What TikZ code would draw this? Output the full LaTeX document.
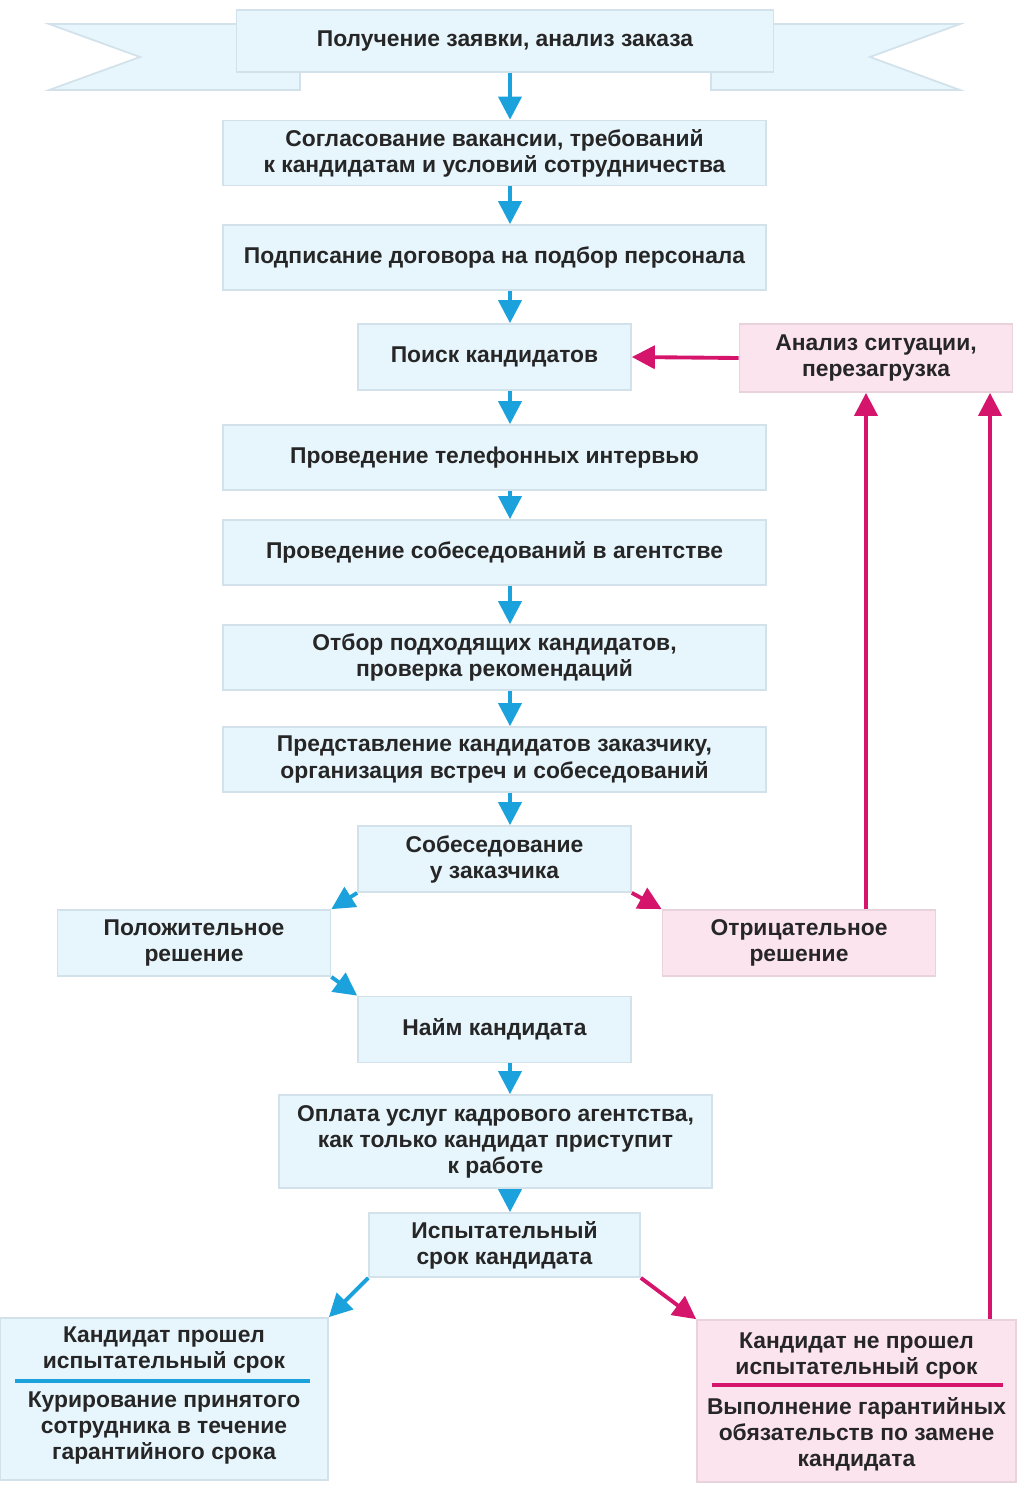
\documentclass[tikz,border=0pt]{standalone}
\usepackage{fontspec}
\setmainfont{Liberation Sans}
\usepackage{xcolor}
\usepackage{tikz}
\usetikzlibrary{
	positioning,						% Relative positioning
	arrows.meta,						% Triangle arrow tips
	calc								% Coordinate calculations
}
\definecolor{step-light}{HTML}{E7F5FC}
\definecolor{step-edge}{HTML}{D3E2EA}
\definecolor{fail-light}{HTML}{FCE4EF}
\definecolor{fail-edge}{HTML}{E8D2DC}
\definecolor{agency-blue}{HTML}{1BA1DB}
\definecolor{agency-pink}{HTML}{D5156B}
\definecolor{ink}{HTML}{262626}

\begin{document}
\begin{tikzpicture}[x=0.02cm, y=-0.02cm]
		\tikzstyle{stage} = [draw=step-edge, fill=step-light, line width=1pt, align=center, text=ink, inner sep=0pt, font=\bfseries\fontsize{13}{14.8}\selectfont]
		\tikzstyle{fail} = [stage, draw=fail-edge, fill=fail-light]
		\tikzstyle{caption} = [align=center, text=ink, inner sep=0pt, font=\bfseries\fontsize{13}{14.8}\selectfont]
		\tikzstyle{wide} = [minimum width=10.86cm, minimum height=1.3cm]
		\tikzstyle{narrow} = [minimum width=5.46cm, minimum height=1.32cm]
		\tikzstyle{flow} = [-{Triangle[length=0.46cm, width=0.46cm]}, line width=2.2pt, draw=agency-blue]
		\tikzstyle{back} = [flow, draw=agency-pink]
		\useasboundingbox (0,0) rectangle (1024,1485);
		
		% Ribbon wings behind the first step
		\filldraw[draw=step-edge, fill=step-light, line width=1pt] (49,24) -- (300,24) -- (300,90) -- (49,90) -- (140,57) -- cycle;
		\filldraw[draw=step-edge, fill=step-light, line width=1pt] (960,24) -- (711,24) -- (711,90) -- (960,90) -- (870,57) -- cycle;
		
		% Main column
		\coordinate (spine) at (510,0);
		\node[stage, minimum width=10.74cm, minimum height=1.24cm] at (505,41) (request) {Получение заявки, анализ заказа};
		\node[stage, wide] at (494.5,153) (agree) {Согласование вакансии, требований\\к кандидатам и условий сотрудничества};
		\node[stage, wide] at (494.5,257.5) (contract) {Подписание договора на подбор персонала};
		\node[stage, narrow] at (494.5,357) (search) {Поиск кандидатов};
		\node[stage, wide] at (494.5,457.5) (phone) {Проведение телефонных интервью};
		\node[stage, wide] at (494.5,552.5) (agencyTalk) {Проведение собеседований в агентстве};
		\node[stage, wide] at (494.5,657.5) (select) {Отбор подходящих кандидатов,\\проверка рекомендаций};
		\node[stage, wide] at (494.5,759.5) (present) {Представление кандидатов заказчику,\\организация встреч и собеседований};
		\node[stage, narrow] at (494.5,859) (clientTalk) {Собеседование\\у заказчика};
		\node[stage, narrow] at (494.5,1029.5) (hire) {Найм кандидата};
		\node[stage, minimum width=8.66cm, minimum height=1.86cm] at (495.5,1141.5) (payment) {Оплата услуг кадрового агентства,\\как только кандидат приступит\\к работе};
		\node[stage, minimum width=5.42cm, minimum height=1.28cm] at (504.5,1245) (trial) {Испытательный\\срок кандидата};
		%% Arrows down the column
		\foreach \from/\to in {request/agree, agree/contract, contract/search, search/phone, phone/agencyTalk, agencyTalk/select, select/present, present/clientTalk, hire/payment, payment/trial}{
			\draw[flow] (\from.south -| spine) -- (\to.north -| spine);
		}
		
		% Decision after the client interview
		\node[stage, narrow] at (194,943) (positive) {Положительное\\решение};
		\node[fail, narrow] at (799,943) (negative) {Отрицательное\\решение};
		\draw[flow] (clientTalk.south west) -- (positive.north east);
		\draw[back] (clientTalk.south east) -- (negative.north west);
		\draw[flow] (positive.south east) -- (hire.north west);
		
		% Outcome of the trial period
		\node[stage, minimum width=6.56cm, minimum height=3.24cm] at (164,1399) (passed) {};
		\node[caption] at (164,1349.5) (passedHead) {Кандидат прошел\\испытательный срок};
		\node[caption] at (164,1427.5) (passedBody) {Курирование принятого\\сотрудника в течение\\гарантийного срока};
		\draw[agency-blue, line width=1.8pt] (15,1381) -- (310,1381);
		\node[fail, minimum width=6.38cm, minimum height=3.24cm] at (856.5,1401) (failed) {};
		\node[caption] at (856.5,1356) (failedHead) {Кандидат не прошел\\испытательный срок};
		\node[caption] at (856.5,1434.5) (failedBody) {Выполнение гарантийных\\обязательств по замене\\кандидата};
		\draw[agency-pink, line width=1.8pt] (712,1385) -- (1003,1385);
		\draw[flow] (trial.south west) -- (passed.north east);
		\draw[back] (trial.south east) -- (failed.north west);
		
		% Restart loop
		\node[fail, narrow, minimum height=1.36cm] at (876,358) (analysis) {Анализ ситуации,\\перезагрузка};
		\coordinate (loopOne) at (866,0);
		\coordinate (loopTwo) at (990,0);
		\draw[back] (analysis.west) -- (search.east);
		\draw[back] (negative.north -| loopOne) -- (analysis.south -| loopOne);
		\draw[back] (failed.north -| loopTwo) -- (analysis.south -| loopTwo);
	\end{tikzpicture}
\end{document}
